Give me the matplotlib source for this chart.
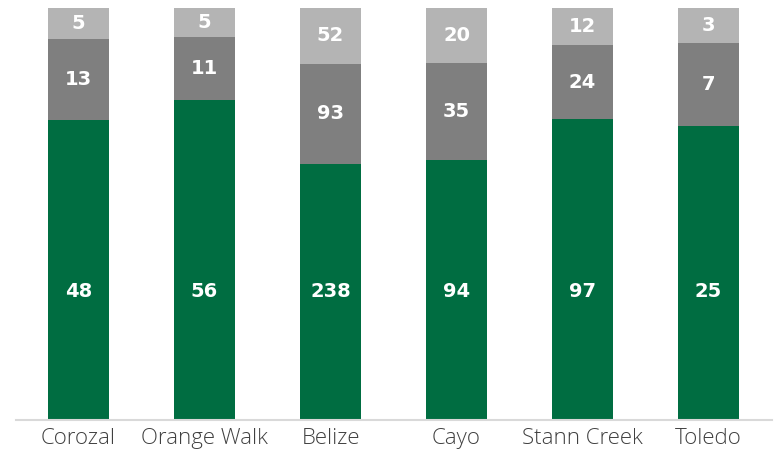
import numpy as np
import matplotlib.pyplot as plt

districts = ["Corozal", "Orange Walk", "Belize", "Cayo", "Stann Creek", "Toledo"]
bottom_vals = [48, 56, 238, 94, 97, 25]
middle_vals = [13, 11, 93, 35, 24, 7]
top_vals = [5, 5, 52, 20, 12, 3]

colors = ["#006D41", "#7F7F7F", "#B4B4B4"]

series = [np.array(bottom_vals, float), np.array(middle_vals, float), np.array(top_vals, float)]
totals = sum(series)

fig = plt.figure(figsize=(7.75, 4.55), dpi=100)
ax = fig.add_axes([0.02, 0.077, 0.9755, 0.9055])

x = np.arange(len(districts))
base = np.zeros(len(districts))
for i, (vals, col) in enumerate(zip(series, colors)):
    share = vals / totals
    ax.bar(x, share, bottom=base, width=0.484, color=col, zorder=2)
    for xi, b, s, v in zip(x, base, share, vals):
        # green labels sit on one common line
        ypos = 0.313 if i == 0 else b + s / 2
        ax.text(xi, ypos, f"{int(v)}", ha="center", va="center",
                color="white", fontsize=14, fontweight="bold", family="DejaVu Sans")
    base += share

ax.set_xlim(-0.5, 5.5)
ax.set_ylim(0, 1)
ax.set_yticks([])
ax.set_xticks(x)
ax.set_xticklabels(districts, fontsize=16, family="Open Sans", fontweight="light", color="#404040")
ax.tick_params(axis="x", length=0, pad=6)
for side in ["left", "right", "top"]:
    ax.spines[side].set_visible(False)
ax.spines["bottom"].set_color("#D9D9D9")
ax.spines["bottom"].set_linewidth(1.5)

fig.savefig("out.png", dpi=100)
